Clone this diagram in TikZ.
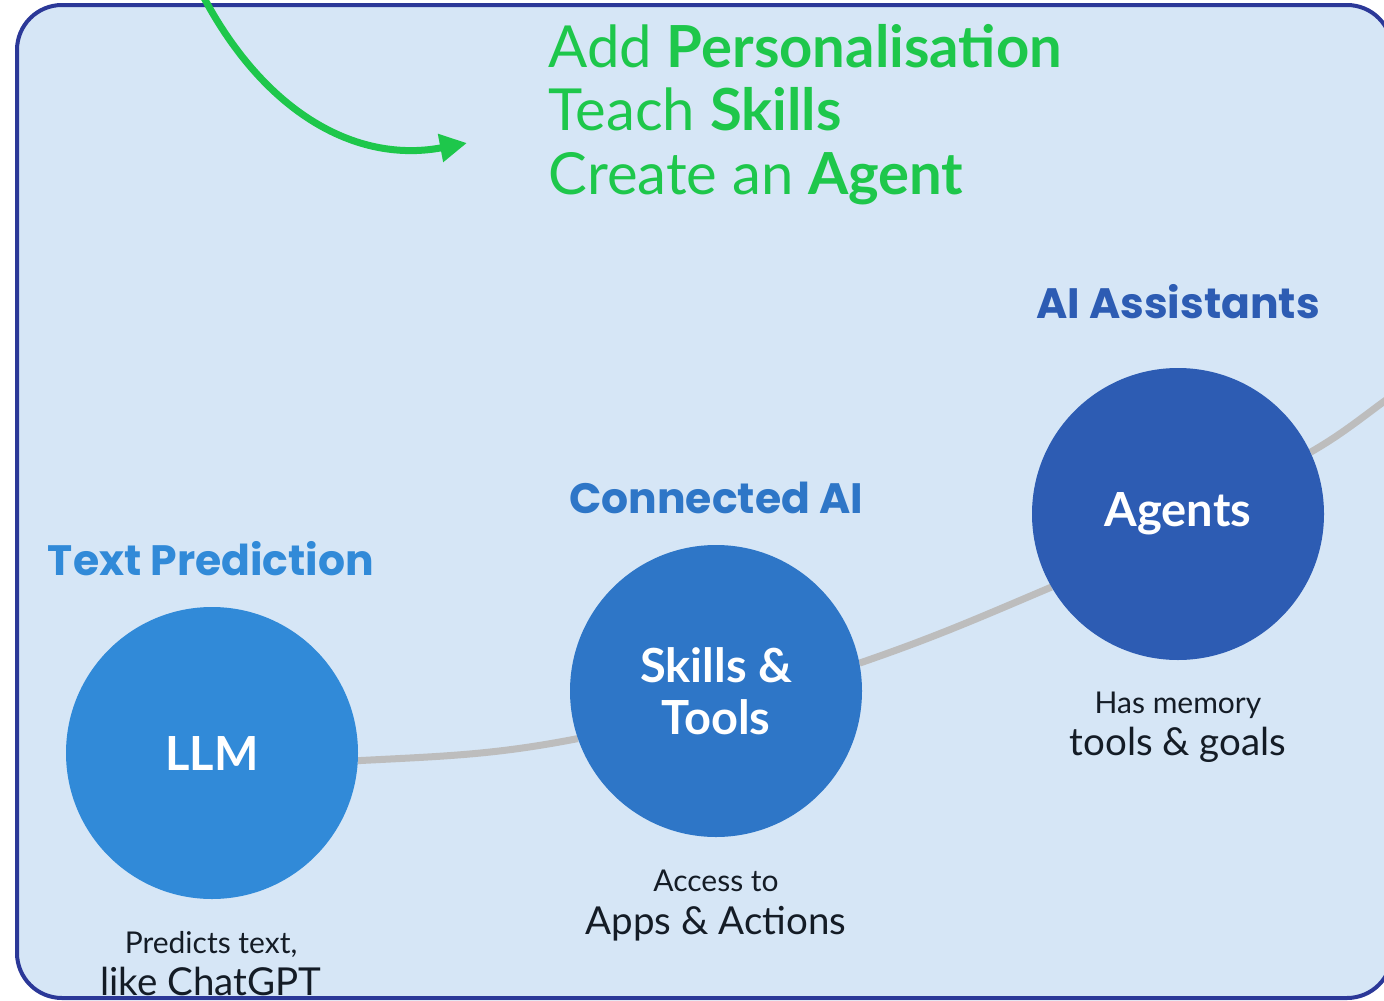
\documentclass[tikz,border=0pt]{standalone}
\usepackage{fontspec}
\setmainfont{Lato}
\newfontfamily\titlefont{Poppins}
\usetikzlibrary{arrows.meta, backgrounds}

\definecolor{paleblue}{HTML}{D6E6F6}
\definecolor{framenavy}{HTML}{2B3898}
\definecolor{leafgreen}{HTML}{1EC74B}
\definecolor{blueA}{HTML}{318AD8}
\definecolor{blueB}{HTML}{2E76C7}
\definecolor{blueC}{HTML}{2D5CB3}
\definecolor{trackgrey}{HTML}{BDBDBD}
\definecolor{ink}{HTML}{141C26}

\tikzset{
	stage/.style={circle, minimum size=292pt, inner sep=0pt, text=white, align=center, font=\fontsize{47}{52}\selectfont\bfseries},
	heading/.style={anchor=base, font=\titlefont\fontsize{42.5}{42}\selectfont\bfseries},
	note/.style={anchor=base, text=ink, font=\fontsize{30}{30}\selectfont},
	bignote/.style={anchor=base, text=ink, font=\fontsize{38.5}{38}\selectfont},
	greenline/.style={anchor=base west, text=leafgreen, font=\fontsize{58}{58}\selectfont},
	sweep/.style={draw=leafgreen, line width=7pt, -{Triangle[length=27pt, width=27pt]}},
	track/.style={draw=trackgrey, line width=7pt}
}

\begin{document}
\begin{tikzpicture}[x=1pt, y=-1pt]
		\useasboundingbox (0,0) rectangle (1384,1001);
		\clip (0,0) rectangle (1384,1001);
		\begin{scope}[on background layer]
			\draw [line width=4pt, draw=framenavy, fill=paleblue, rounded corners=45pt] (17,5) rectangle (1392,998);
		\end{scope}

		\node (llm)[stage, fill=blueA] at (212,753) {LLM};
		\node (skills)[stage, fill=blueB] at (716,691) {Skills \&\\Tools};
		\node (agents)[stage, fill=blueC] at (1178,514) {Agents};

		\node (texthead)[heading, text=blueA] at (211,575) {Text Prediction};
		\node (connhead)[heading, text=blueB] at (716,513) {Connected AI};
		\node (assisthead)[heading, text=blueC] at (1178,318) {AI Assistants};

		\node (llmnote)[note] at (211,953) {Predicts text,};
		\node (llmnote2)[bignote] at (211,995) {like ChatGPT};
		\node (skillsnote)[note] at (716,891) {Access to};
		\node (skillsnote2)[bignote] at (716,934) {Apps \& Actions};
		\node (agentsnote)[note] at (1178,713) {Has memory};
		\node (agentsnote2)[bignote] at (1178,755) {tools \& goals};

		\node (personal)[greenline] at (545,67) {Add \textbf{Personalisation}};
		\node (teach)[greenline] at (545,130) {Teach \textbf{Skills}};
		\node (create)[greenline] at (545,194) {Create an \textbf{Agent}};

		\coordinate (sweepstart) at (195,-20);
		\coordinate (sweepend) at (467,143);
		\draw [sweep](sweepstart) .. controls (255,105) and (350,165) .. (sweepend);

		\coordinate (tail) at (1400,390);
		\begin{scope}[on background layer]
			\draw [track](llm.-3.5) to[out=3, in=191] (skills.199);
			\draw [track](skills.11) to[out=19, in=203] (agents.210);
			\draw [track](agents.25) to[out=30, in=215] (tail);
		\end{scope}
\end{tikzpicture}
\end{document}
